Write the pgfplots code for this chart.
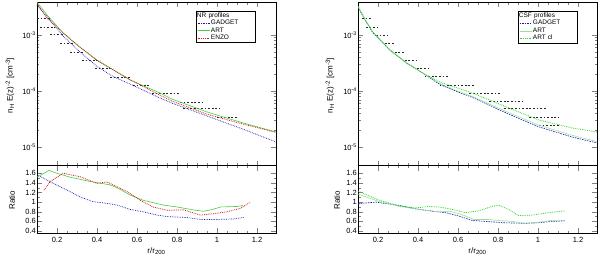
\documentclass[border=0pt]{standalone}
\usepackage{pgfplots}
\pgfplotsset{compat=1.18}
\usepackage{fontspec}
\setmainfont{Liberation Sans}
\definecolor{cblue}{RGB}{20,20,180}
\definecolor{cred}{RGB}{215,25,25}
\definecolor{cgreen}{RGB}{70,205,70}
\definecolor{cgreencl}{RGB}{40,215,40}
\definecolor{cart}{RGB}{150,225,150}
\pgfplotsset{
  mybase/.style={scale only axis, width=239pt, xmin=0.1, xmax=1.295,
    tick align=inside, major tick length=5pt, minor tick length=2.5pt,
    axis line style={line width=0.4pt},
    xtick={0.2,0.4,0.6,0.8,1,1.2}, minor x tick num=3,
    /pgf/number format/assume math mode=true,
    ticklabel style={font=\fontsize{7.5}{8}\selectfont},
    label style={font=\fontsize{8}{9}\selectfont},
    yticklabel style={inner xsep=1pt},
  },
  mylegend/.style={legend cell align=left,
    legend style={anchor=north west,
      draw=black, line width=0.5pt, fill=white, font=\fontsize{6.5}{7}\selectfont,
      inner xsep=1pt, inner ysep=0.5pt, row sep=-0.6pt,
      nodes={inner sep=1pt, text width=42pt, align=left}}},
  myobs/.style={black!85, line width=0.45pt, dash pattern=on 1.8pt off 1.8pt, unbounded coords=jump, forget plot},
}
\begin{document}
\begin{tikzpicture}
\useasboundingbox (0,0) rectangle (600pt,258pt);
% ---------------- left top ----------------
\begin{axis}[mybase, mylegend, ymode=log, height=163.6pt, ymin=4.65e-6, ymax=3.88e-3,
  xticklabels={}, ytick={1e-5,1e-4,1e-3},
  yticklabels={10\textsuperscript{-5},10\textsuperscript{-4},10\textsuperscript{-3}},
  legend image code/.code={\draw[#1] (0pt,0pt) -- (12pt,0pt);},
  legend style={at={(axis description cs:0.665,0.945)}},
  at={(37pt,92.4pt)}, anchor=south west,
  ylabel={n\textsubscript{H} E(z)\textsuperscript{-2} [cm\textsuperscript{-3}]},
  ylabel style={at={(axis description cs:-0.113,0.49)}, anchor=center}]
\addplot[myobs] coordinates {
(0.100,2.01e-3) (0.165,2.01e-3) (0.165,nan)
(0.115,1.39e-3) (0.190,1.39e-3) (0.19,nan)
(0.165,1.04e-3) (0.230,1.04e-3) (0.23,nan)
(0.215,7.2e-4) (0.280,7.2e-4) (0.28,nan)
(0.265,4.97e-4) (0.330,4.97e-4) (0.33,nan)
(0.325,3.58e-4) (0.415,3.58e-4) (0.415,nan)
(0.390,2.58e-4) (0.475,2.58e-4) (0.475,nan)
(0.465,1.78e-4) (0.565,1.78e-4) (0.565,nan)
(0.580,1.28e-4) (0.665,1.28e-4) (0.665,nan)
(0.675,9.2e-5) (0.815,9.2e-5) (0.815,nan)
(0.815,6.37e-5) (0.925,6.37e-5) (0.925,nan)
(0.830,4.97e-5) (1.015,4.97e-5) (1.015,nan)
(1.000,3.43e-5) (1.105,3.43e-5)};
\addlegendimage{empty legend}
\addlegendentry{\hspace{-14pt}NR profiles}
\addplot[cblue, draw=cblue, line width=0.7pt, densely dotted] coordinates {
(0.10,3.43e-3) (0.165,1.85e-3) (0.23,9.6e-4) (0.315,4.97e-4) (0.40,2.74e-4)
(0.48,1.82e-4) (0.565,1.33e-4) (0.65,9.6e-5) (0.715,7.5e-5) (0.78,5.98e-5)
(0.95,3.58e-5) (1.115,2.18e-5) (1.295,1.23e-5)};
\addlegendentry{GADGET}
\addplot[cgreen, draw=cgreen, line width=0.6pt] coordinates {
(0.10,3.85e-3) (0.15,2.28e-3) (0.23,1.09e-3) (0.30,6.63e-4) (0.40,3.58e-4)
(0.565,1.57e-4) (0.715,9.2e-5) (0.78,7.05e-5) (0.95,4.22e-5) (1.115,2.79e-5)
(1.295,1.85e-5)};
\addlegendentry{ART}
\addplot[cred, draw=cred, line width=0.8pt, densely dotted] coordinates {
(0.10,3.6e-3) (0.15,2.0e-3) (0.23,1.1e-3) (0.30,6.7e-4) (0.40,3.5e-4)
(0.565,1.6e-4) (0.715,8.4e-5) (0.78,6.5e-5) (0.95,3.85e-5) (1.115,2.65e-5)
(1.295,1.82e-5)};
\addlegendentry{ENZO}
\end{axis}
% ---------------- left ratio ----------------
\begin{axis}[mybase, height=67.8pt, ymin=0.35, ymax=1.76,
  ytick={0.4,0.6,0.8,1,1.2,1.4,1.6}, minor y tick num=1,
  xlabel style={at={(axis description cs:0.5,-0.26)}, anchor=center},
  at={(37pt,24.6pt)}, anchor=south west,
  xlabel={r/r\textsubscript{200}}, ylabel={Ratio},
  ylabel style={at={(axis description cs:-0.105,0.49)}, anchor=center}]
\addplot[cblue, line width=0.7pt, densely dotted] coordinates {
(0.10,1.57) (0.165,1.425) (0.265,1.22) (0.315,1.11) (0.38,1.01) (0.45,0.975)
(0.50,0.94) (0.565,0.85) (0.63,0.80) (0.70,0.73) (0.75,0.70) (0.85,0.68)
(0.917,0.64) (1.0,0.64) (1.083,0.65) (1.133,0.68)};
\addplot[cgreen, line width=0.6pt] coordinates {
(0.10,1.52) (0.16,1.66) (0.20,1.60) (0.265,1.52) (0.365,1.43) (0.465,1.36)
(0.50,1.30) (0.565,1.15) (0.63,1.04) (0.73,0.94) (0.80,0.90) (0.88,0.84)
(0.93,0.81) (0.97,0.84) (1.02,0.90) (1.10,0.91) (1.13,0.93)};
\addplot[cred, line width=0.8pt, densely dotted] coordinates {
(0.135,1.25) (0.165,1.425) (0.23,1.60) (0.315,1.53) (0.40,1.39) (0.45,1.42)
(0.50,1.32) (0.55,1.22) (0.615,1.04) (0.68,0.90) (0.75,0.83) (0.833,0.84)
(0.917,0.73) (0.983,0.76) (1.05,0.80) (1.117,0.87) (1.167,1.0)};
\end{axis}
% ---------------- right top ----------------
\begin{axis}[mybase, mylegend, ymode=log, height=163.6pt, ymin=4.65e-6, ymax=3.88e-3,
  xticklabels={}, ytick={1e-5,1e-4,1e-3},
  yticklabels={10\textsuperscript{-5},10\textsuperscript{-4},10\textsuperscript{-3}},
  legend image code/.code={\draw[#1] (0pt,0pt) -- (12pt,0pt);},
  legend style={at={(axis description cs:0.669,0.945)}},
  at={(358pt,92.4pt)}, anchor=south west,
  ylabel={n\textsubscript{H} E(z)\textsuperscript{-2} [cm\textsuperscript{-3}]},
  ylabel style={at={(axis description cs:-0.117,0.49)}, anchor=center}]
\addplot[myobs] coordinates {
(0.12,2.01e-3) (0.17,2.01e-3) (0.17,nan)
(0.14,1.39e-3) (0.20,1.39e-3) (0.20,nan)
(0.19,1.0e-3) (0.25,1.0e-3) (0.25,nan)
(0.234,7.2e-4) (0.284,7.2e-4) (0.284,nan)
(0.284,4.97e-4) (0.334,4.97e-4) (0.334,nan)
(0.334,3.58e-4) (0.40,3.58e-4) (0.40,nan)
(0.394,2.58e-4) (0.458,2.58e-4) (0.458,nan)
(0.433,1.85e-4) (0.548,1.85e-4) (0.548,nan)
(0.508,1.28e-4) (0.682,1.28e-4) (0.682,nan)
(0.657,9.2e-5) (0.816,9.2e-5) (0.816,nan)
(0.757,6.6e-5) (0.921,6.6e-5) (0.921,nan)
(0.831,4.97e-5) (1.045,4.97e-5) (1.045,nan)
(0.956,3.43e-5) (1.105,3.43e-5) (1.105,nan)
(1.005,2.47e-5) (1.105,2.47e-5)};
\addlegendimage{empty legend}
\addlegendentry{\hspace{-14pt}CSF profiles}
\addplot[cblue, draw=cblue, line width=0.6pt, dash pattern=on 1.5pt off 1pt] coordinates {
(0.10,3.16e-3) (0.135,1.85e-3) (0.175,1.09e-3) (0.259,5.4e-4) (0.344,3.16e-4)
(0.423,2.1e-4) (0.51,1.3e-4) (0.60,9.6e-5) (0.672,7.7e-5) (0.841,4.05e-5)
(1.005,2.28e-5) (1.17,1.51e-5) (1.295,1.18e-5)};
\addlegendentry{GADGET}
\addplot[cart, draw=cart, line width=0.5pt] coordinates {
(0.10,3.2e-3) (0.135,1.9e-3) (0.175,1.12e-3) (0.259,5.5e-4) (0.344,3.2e-4)
(0.423,2.1e-4) (0.51,1.35e-4) (0.60,9.9e-5) (0.672,8.0e-5) (0.841,4.3e-5)
(1.005,2.45e-5) (1.17,1.62e-5) (1.295,1.25e-5)};
\addlegendentry{ART}
\addplot[cgreencl, draw=cgreencl, line width=0.8pt, densely dotted] coordinates {
(0.10,3.3e-3) (0.135,1.9e-3) (0.175,1.12e-3) (0.259,5.4e-4) (0.344,3.1e-4)
(0.423,2.1e-4) (0.508,1.45e-4) (0.60,1.12e-4) (0.672,9.2e-5) (0.841,5.2e-5)
(1.005,3.03e-5) (1.17,2.19e-5) (1.295,1.85e-5)};
\addlegendentry{ART cl}
\end{axis}
% ---------------- right ratio ----------------
\begin{axis}[mybase, height=67.8pt, ymin=0.35, ymax=1.76,
  ytick={0.4,0.6,0.8,1,1.2,1.4,1.6}, minor y tick num=1,
  xlabel style={at={(axis description cs:0.5,-0.26)}, anchor=center},
  at={(358pt,24.6pt)}, anchor=south west,
  xlabel={r/r\textsubscript{200}}, ylabel={Ratio},
  ylabel style={at={(axis description cs:-0.088,0.49)}, anchor=center}]
\addplot[cblue, line width=0.6pt, dash pattern=on 1.5pt off 1pt] coordinates {
(0.10,0.97) (0.19,1.0) (0.307,0.93) (0.39,0.86) (0.473,0.81) (0.54,0.78)
(0.605,0.71) (0.67,0.62) (0.737,0.60) (0.836,0.57) (0.935,0.56) (1.0,0.57)
(1.068,0.60) (1.134,0.61)};
\addplot[cart, line width=0.6pt] coordinates {
(0.10,1.17) (0.20,1.02) (0.30,0.92) (0.40,0.85) (0.50,0.80) (0.56,0.81)
(0.62,0.74) (0.68,0.64) (0.75,0.64) (0.80,0.62) (0.87,0.60) (0.93,0.56)
(1.0,0.58) (1.07,0.62) (1.13,0.62)};
\addplot[cgreencl, line width=0.8pt, densely dotted] coordinates {
(0.10,1.23) (0.20,1.05) (0.307,0.92) (0.39,0.88) (0.45,0.91) (0.506,0.90) (0.57,0.85)
(0.638,0.78) (0.704,0.82) (0.77,0.91) (0.803,0.94) (0.853,0.85) (0.902,0.72)
(0.969,0.73) (1.05,0.78) (1.134,0.82)};
\end{axis}
\end{tikzpicture}
\end{document}
